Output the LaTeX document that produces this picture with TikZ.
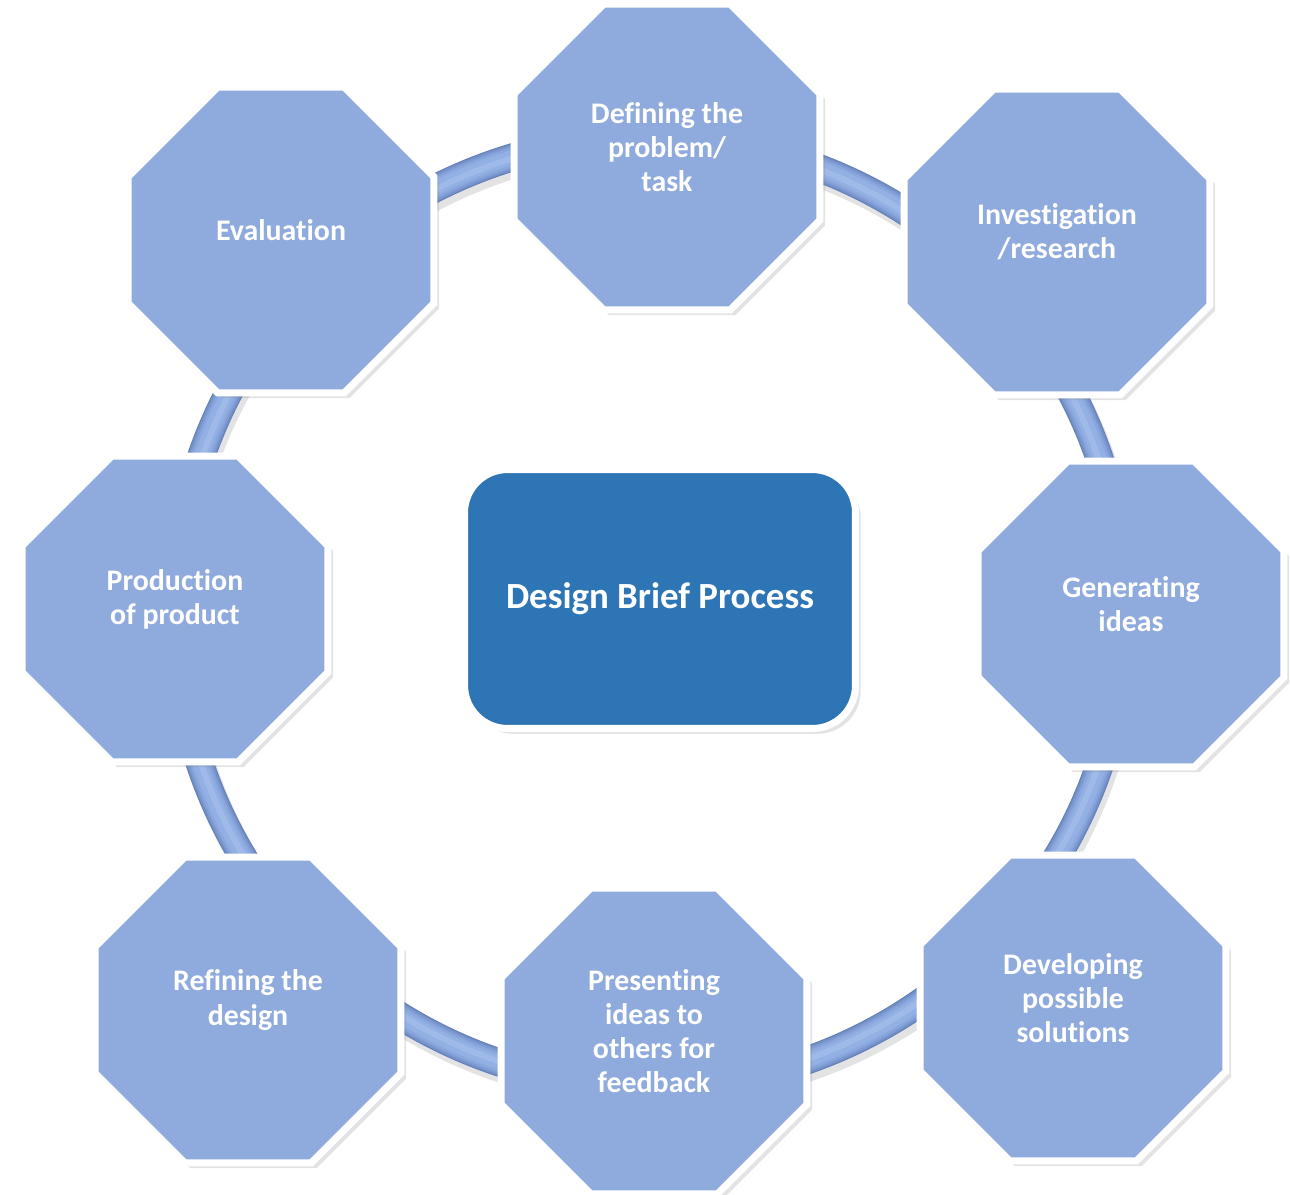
\documentclass[tikz,border=0pt]{standalone}
\usepackage{fontspec}
\setmainfont{Carlito}[Ligatures=NoCommon]
\usetikzlibrary{shapes.geometric,shadows}

\definecolor{stagefill}{RGB}{143,170,220}
\definecolor{hubfill}{RGB}{46,117,182}
\definecolor{ringedge}{RGB}{100,128,186}
\definecolor{ringbody}{RGB}{146,176,228}
\definecolor{ringshine}{RGB}{172,196,238}

\tikzset{
  stage/.style={regular polygon, regular polygon sides=8, minimum size=6.62cm,
    inner sep=0pt, fill=stagefill, draw=white, line width=4pt,
    drop shadow={opacity=0.22, shadow xshift=3pt, shadow yshift=-3pt}},
  stagetext/.style={text=white, align=center, font=\fontsize{17}{19.5}\selectfont\bfseries},
  hub/.style={rectangle, rounded corners=0.86cm, minimum width=7.82cm, minimum height=5.18cm,
    fill=hubfill, draw=white, line width=4pt, text=white,
    drop shadow={opacity=0.22, shadow xshift=3pt, shadow yshift=-3pt},
    font=\fontsize{21}{25}\selectfont\bfseries}
}

\begin{document}
\begin{tikzpicture}[x=0.02cm, y=-0.02cm]
  \useasboundingbox (0,0) rectangle (1290,1194);

  % the tube ring behind the stages
  \coordinate (ring) at (650,612);
  \draw[gray, opacity=0.22, line width=0.58cm] ([shift={(3,6)}]ring) circle [radius=9.5cm];
  \draw[ringedge, line width=0.56cm] (ring) circle [radius=9.5cm];
  \foreach \w/\c in {0.52/30, 0.46/55, 0.38/80, 0.28/100, 0.16/100}
    \draw[ringbody!\c!ringedge, line width=\w cm] (ring) circle [radius=9.5cm];
  \draw[ringshine, opacity=0.5, line width=0.12cm] (ring) circle [radius=9.48cm];

  % the eight stages
  \foreach \n/\x/\y/\t in {def/667/157/{Defining the\\problem/\\task},
                           inv/1057/242/{Investigation\\/research},
                           gen/1131/614/{Generating\\ideas},
                           dev/1073/1008/{Developing\\possible\\solutions},
                           pre/654/1041/{Presenting\\ideas to\\others for\\feedback},
                           ref/248/1010/{Refining the\\design},
                           pro/175/609/{Production\\of product},
                           eva/281/240/{Evaluation}}
  {
    \node[stage] (\n) at (\x,\y) {};
    \node[stagetext] (\n-text) at ([yshift=0.2cm]\n.center) {\t};
  }

  \node[hub] (hub) at (660,599) {Design Brief Process};
\end{tikzpicture}
\end{document}
